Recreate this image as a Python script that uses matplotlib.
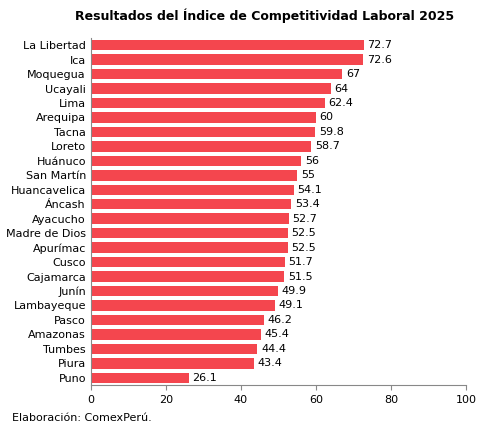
import matplotlib.pyplot as plt

regions = ["La Libertad", "Ica", "Moquegua", "Ucayali", "Lima", "Arequipa", "Tacna", "Loreto",
           "Huánuco", "San Martín", "Huancavelica", "Áncash", "Ayacucho", "Madre de Dios",
           "Apurímac", "Cusco", "Cajamarca", "Junín", "Lambayeque", "Pasco", "Amazonas",
           "Tumbes", "Piura", "Puno"]
scores = [72.7, 72.6, 67, 64, 62.4, 60, 59.8, 58.7, 56, 55, 54.1, 53.4, 52.7, 52.5,
          52.5, 51.7, 51.5, 49.9, 49.1, 46.2, 45.4, 44.4, 43.4, 26.1]

fig = plt.figure(figsize=(4.99, 4.41), dpi=100)
ax = fig.add_axes([0.182, 0.127, 0.752, 0.787])
y = range(len(regions))
ax.barh(y, scores, height=0.72, color="#F4464E")
for i, v in zip(y, scores):
    ax.text(v + 1, i, f"{v:g}", va="center", ha="left", fontsize=8)
ax.set_yticks(list(y))
ax.set_yticklabels(regions, fontsize=8)
ax.set_ylim(len(regions) - 0.5, -0.5)
ax.set_xlim(0, 100)
ax.set_xticks(range(0, 101, 20))
ax.tick_params(axis="x", labelsize=8, color="#888888")
ax.tick_params(axis="y", length=0)
for s in ["top", "right"]:
    ax.spines[s].set_visible(False)
ax.spines["left"].set_color("#888888")
ax.spines["bottom"].set_color("#888888")
fig.text(0.53, 0.965, "Resultados del Índice de Competitividad Laboral 2025",
         ha="center", va="center", fontsize=9, fontweight="bold")
fig.text(0.025, 0.052, "Elaboración: ComexPerú.", fontsize=8, va="center")
fig.savefig("out.png")
